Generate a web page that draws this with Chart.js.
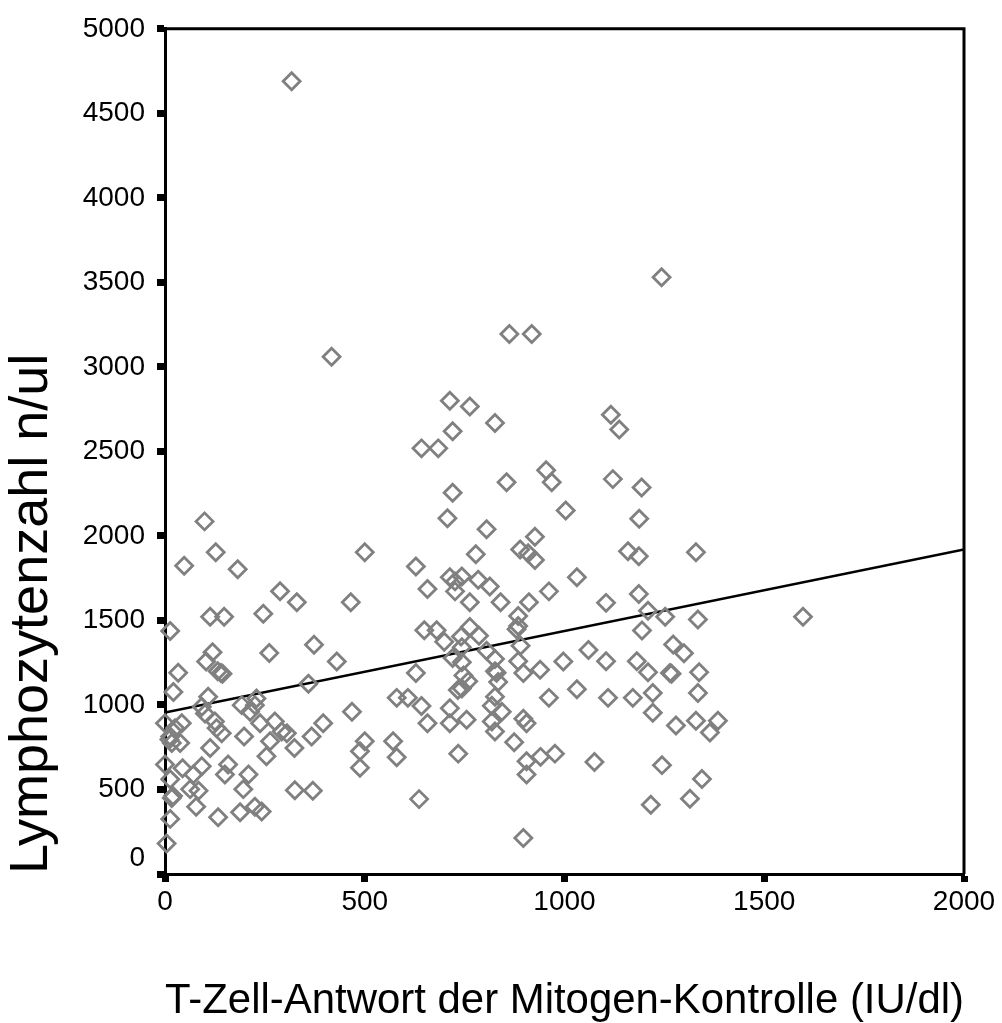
<!DOCTYPE html>
<html lang="de">
  <head>
    <meta charset="utf-8" />
    <title>Lymphozytenzahl vs. T-Zell-Antwort</title>
    <style>
      body { margin: 0; background: #fff; }
    </style>
  </head>
  <body>
    <canvas id="canvas" width="1002" height="1023"></canvas>

    <script src="https://cdn.jsdelivr.net/npm/chart.js"></script>

    <script>
      // T-Zell-Antwort der Mitogen-Kontrolle (IU/dl)
      const tcellResponse = [
        317, 417, 1243, 862, 918,
        713, 763, 826, 720, 642, 684, 855, 954, 968, 720,
        1116, 1137, 1121, 1193, 1003, 1187,
        707, 805, 500, 926, 889, 909, 926, 778, 628, 1031, 713, 743, 784, 726,
        813, 657, 726, 961, 763, 840, 911, 465, 884, 884, 880, 649, 680, 763,
        786, 741, 699, 743, 890, 805, 1060, 720, 743, 826, 884, 997, 628, 826,
        830, 897, 939, 747, 834, 759, 743, 733, 580, 608, 826, 961, 1031, 642,
        713, 818, 843, 468, 657, 713, 755, 818, 897, 905, 826, 500, 488, 488,
        571, 580, 734, 874, 905, 940, 976, 905, 1075, 636, 897,
        1159, 1186, 1329, 1104, 1186, 1209, 1252, 1334, 1597, 1194, 1272, 1299,
        1104, 1181, 1209, 1264, 1268, 1337, 1109, 1171, 1221, 1334, 1221, 1279,
        1329, 1384, 1364, 1244, 1344, 1216, 1314,
        99, 48, 127, 182, 288, 330, 13, 113, 148, 246, 373, 430, 261, 119, 103,
        132, 140, 144, 33, 359, 21,
        108, 92, 100, 192, 213, 229, 225, 0, 42, 25, 13, 17, 38, 11, 125, 142,
        129, 198, 238, 275, 292, 305, 263, 396, 113, 254, 324, 367, 0, 44, 71,
        92, 158, 150, 209, 13, 63, 84, 196, 325, 370, 17, 20, 78, 133, 188, 225,
        242, 13, 4
      ];

      // Lymphozytenzahl n/ul
      const lymphocytes = [
        4690, 3060, 3530, 3195, 3195,
        2800, 2765, 2668, 2619, 2518, 2518, 2317, 2389, 2317, 2255,
        2717, 2629, 2336, 2287, 2150, 2102,
        2105, 2039, 1903, 1995, 1920, 1897, 1858, 1891, 1819, 1755, 1755, 1760, 1741, 1731,
        1701, 1686, 1672, 1672, 1608, 1608, 1608, 1608, 1526, 1467, 1448, 1442, 1442, 1461,
        1409, 1405, 1374, 1341, 1350, 1321, 1325, 1278, 1253, 1272, 1259, 1257, 1189, 1200,
        1190, 1189, 1208, 1175, 1136, 1140, 1097, 1089, 1042, 1042, 1048, 1042, 1093, 994,
        980, 995, 960, 960, 892, 892, 912, 902, 918, 892, 843, 785, 726, 628,
        785, 691, 712, 780, 667, 693, 712, 589, 662, 443, 213,
        1909, 1880, 1903, 1604, 1657, 1557, 1522, 1505, 1522, 1440, 1358, 1306,
        1259, 1259, 1194, 1189, 1185, 1194, 1042, 1042, 1071, 1071, 954, 878,
        907, 907, 837, 644, 562, 410, 445,
        2086, 1823, 1903, 1803, 1673, 1608, 1438, 1522, 1522, 1540, 1356, 1257, 1307, 1312, 1257,
        1199, 1189, 1185, 1191, 1126, 1077,
        1048, 989, 950, 999, 960, 1038, 999, 892, 892, 863, 814, 775, 775, 795, 902, 833,
        863, 814, 892, 902, 843, 833, 785, 892, 746, 697, 746, 814, 648, 625, 589,
        638, 648, 589, 589, 560, 502, 492, 502, 496, 492, 449, 462, 398, 336, 365, 398,
        370, 326, 180
      ];

      // Regressionsgerade (Endpunkte)
      const fitX = [0, 2000];
      const fitY = [955, 1920];

      const xTicks = [0, 500, 1000, 1500, 2000];
      const yTicks = [0, 500, 1000, 1500, 2000, 2500, 3000, 3500, 4000, 4500, 5000];

      const FONT = "'Liberation Sans', Arial, Helvetica, sans-serif";

      // SPSS-artiger Rahmen oben/rechts und verschobene "0" an der y-Achse
      const framePlugin = {
        id: "frame",
        afterDraw(chart) {
          const { ctx, chartArea: a } = chart;
          ctx.save();
          ctx.strokeStyle = "#000";
          ctx.lineWidth = 3;
          ctx.beginPath();
          ctx.moveTo(a.left, a.top);
          ctx.lineTo(a.right, a.top);
          ctx.lineTo(a.right, a.bottom);
          ctx.stroke();

          const y = chart.scales.y;
          ctx.fillStyle = "#000";
          ctx.font = "28px " + FONT;
          ctx.textAlign = "right";
          ctx.textBaseline = "middle";
          ctx.fillText("0", y.right - 20, y.getPixelForValue(0) - 16);
          ctx.restore();
        },
      };

      new Chart(document.getElementById("canvas"), {
        type: "scatter",
        data: {
          datasets: [
            {
              data: tcellResponse.map((x, i) => ({ x, y: lymphocytes[i] })),
              pointStyle: "rectRot",
              pointRadius: 8.5,
              pointBorderWidth: 2.8,
              pointBorderColor: "#808080",
              pointBackgroundColor: "rgba(0,0,0,0)",
              clip: false,
            },
            {
              type: "line",
              data: fitX.map((x, i) => ({ x, y: fitY[i] })),
              borderColor: "#000",
              borderWidth: 2.5,
              pointRadius: 0,
              fill: false,
            },
          ],
        },
        plugins: [framePlugin],
        options: {
          responsive: false,
          animation: false,
          layout: { padding: { left: 0, top: 20, right: 38, bottom: 0 } },
          plugins: { legend: { display: false }, tooltip: { enabled: false } },
          scales: {
            x: {
              min: 0,
              max: 2000,
              afterFit(scale) { scale.height = 149; },
              afterBuildTicks(scale) { scale.ticks = xTicks.map((value) => ({ value })); },
              grid: { drawOnChartArea: false, tickLength: 8, tickWidth: 7, tickColor: "#000" },
              border: { color: "#000", width: 3 },
              ticks: {
                color: "#000",
                padding: 3,
                maxRotation: 0,
                font: { family: FONT, size: 28 },
                callback: (v) => String(v),
              },
              title: {
                display: true,
                text: "T-Zell-Antwort der Mitogen-Kontrolle (IU/dl)",
                color: "#000",
                font: { family: FONT, size: 42.5, lineHeight: 1 },
                padding: { top: 0, bottom: 0 },
              },
            },
            y: {
              min: 0,
              max: 5000,
              afterFit(scale) { scale.width = 165; },
              afterBuildTicks(scale) { scale.ticks = yTicks.map((value) => ({ value })); },
              grid: { drawOnChartArea: false, tickLength: 8, tickWidth: 7, tickColor: "#000" },
              border: { color: "#000", width: 3 },
              ticks: {
                color: "#000",
                padding: 12,
                font: { family: FONT, size: 28 },
                callback: (v) => (v === 0 ? "" : String(v)),
              },
              title: {
                display: true,
                align: "start",
                text: "Lymphozytenzahl n/ul",
                color: "#000",
                font: { family: FONT, size: 54, lineHeight: 1 },
                padding: { top: 5, bottom: 0 },
              },
            },
          },
        },
      });
    </script>
  </body>
</html>
